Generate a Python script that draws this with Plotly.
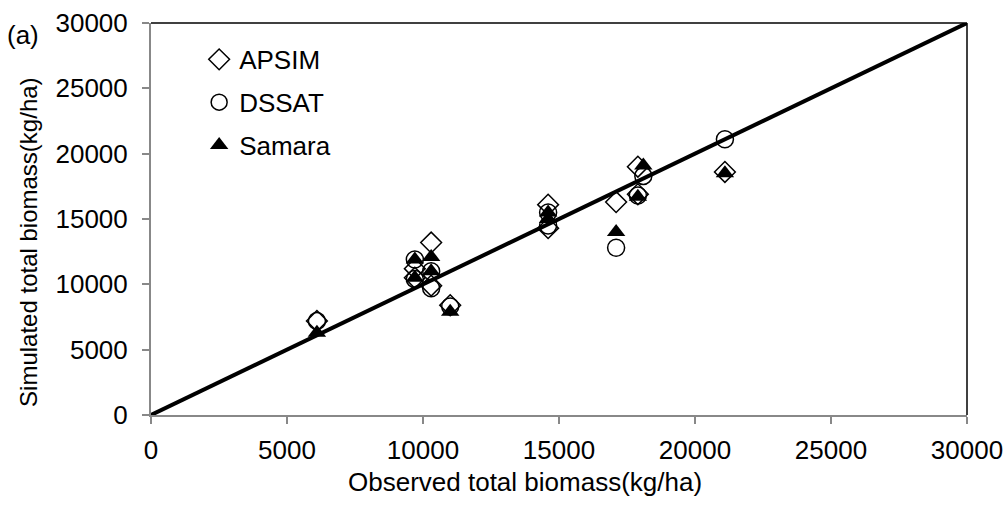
import plotly.graph_objects as go

# Observed vs simulated total biomass (kg/ha)
apsim_obs = [6100, 9700, 10300, 10300, 11000, 14600, 14600, 17100, 17900, 17900, 21100, 9700]
apsim_sim = [7200, 10500, 13200, 9900, 8400, 16100, 14300, 16300, 19000, 16900, 18600, 11200]

dssat_obs = [6100, 9700, 9700, 10300, 11000, 14600, 14600, 17100, 18100, 17900, 21100, 10300]
dssat_sim = [7200, 11900, 10400, 9700, 8300, 15500, 14500, 12800, 18300, 16800, 21100, 11000]

samara_obs = [6100, 9700, 9700, 10300, 10300, 11000, 14600, 14600, 17100, 18100, 17900, 21100]
samara_sim = [6300, 11900, 10500, 12100, 11000, 7900, 15500, 15000, 14000, 19100, 16700, 18500]

axis_range = [0, 30000]
tick_vals = [0, 5000, 10000, 15000, 20000, 25000, 30000]
tick_text = ["0", "5000", "10000", "15000", "20000", "25000", "30000"]

x_title = "Observed total biomass(kg/ha)"
y_title = "Simulated total biomass(kg/ha)"

FONT = "Liberation Sans, Arial, sans-serif"
FS = 26

fig = go.Figure()

fig.add_trace(go.Scatter(
    x=axis_range, y=axis_range, mode="lines",
    line=dict(color="black", width=4), showlegend=False, hoverinfo="skip"))

fig.add_trace(go.Scatter(
    x=apsim_obs, y=apsim_sim, mode="markers", name="APSIM", legendgroup="a",
    marker=dict(symbol="diamond-open", size=16, color="black", line=dict(width=1.5))))
fig.add_trace(go.Scatter(
    x=dssat_obs, y=dssat_sim, mode="markers", name="DSSAT", legendgroup="b",
    marker=dict(symbol="circle-open", size=17, color="black", line=dict(width=1.5))))
fig.add_trace(go.Scatter(
    x=samara_obs, y=samara_sim, mode="markers", name="Samara", legendgroup="c",
    marker=dict(symbol="triangle-up", size=16, color="black", line=dict(width=0))))

fig.update_layout(
    width=1008, height=505,
    margin=dict(l=151, r=41, t=23, b=90),
    paper_bgcolor="white", plot_bgcolor="white",
    font=dict(family=FONT, size=FS, color="black"),
    legend=dict(x=0.059, y=0.967, xanchor="left", yanchor="top",
                bgcolor="rgba(0,0,0,0)", tracegroupgap=6,
                font=dict(size=FS), itemwidth=30),
    xaxis=dict(range=axis_range, tickvals=tick_vals, ticktext=tick_text,
               showgrid=False, zeroline=False, automargin=False,
               showline=True, linecolor="#888888", linewidth=2,
               ticks="outside", ticklen=7, tickcolor="#888888", tickwidth=1.5,
               ticklabelstandoff=4,
               tickfont=dict(size=FS)),
    yaxis=dict(range=axis_range, tickvals=tick_vals, ticktext=tick_text,
               showgrid=False, zeroline=False, automargin=False,
               showline=True, linecolor="#888888", linewidth=2,
               ticks="outside", ticklen=7, tickcolor="#888888", tickwidth=1.5,
               ticklabelstandoff=9,
               tickfont=dict(size=FS)),
    shapes=[
        dict(type="line", xref="paper", yref="paper", x0=0, x1=1, y0=1, y1=1,
             line=dict(color="black", width=1.5)),
        dict(type="line", xref="paper", yref="paper", x0=1, x1=1, y0=0, y1=1,
             line=dict(color="black", width=1.5)),
    ],
    annotations=[
        dict(text="(a)", xref="paper", yref="paper", x=-0.157, y=0.969,
             xanchor="center", yanchor="middle", showarrow=False, font=dict(size=FS)),
        dict(text=x_title, xref="paper", yref="paper", x=0.458, y=-0.171,
             xanchor="center", yanchor="middle", showarrow=False, font=dict(size=FS)),
        dict(text=y_title, xref="paper", yref="paper", x=-0.1495, y=0.439,
             xanchor="center", yanchor="middle", textangle=-90, showarrow=False,
             font=dict(size=24)),
    ],
)

fig.write_html("out.html", post_script="document.body.style.margin='0';",
               config={"displayModeBar": False})
